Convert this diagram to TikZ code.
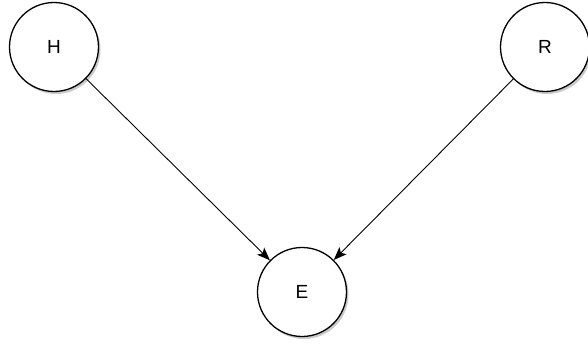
\documentclass[tikz,border=0pt]{standalone}
\usepackage{fontspec}
\setmainfont{Liberation Sans}
\usetikzlibrary{arrows.meta,shadows}
\begin{document}
\begin{tikzpicture}[x=1pt,y=-1pt,
  var/.style={circle,draw=black,line width=1.3pt,fill=white,minimum size=89pt,inner sep=0pt,
    font=\fontsize{19}{21}\selectfont,
    drop shadow={shadow xshift=2pt,shadow yshift=-2.5pt,opacity=0.35,fill=black!60}},
  edge/.style={-{Stealth[length=13pt,width=10pt,inset=3pt]},line width=0.9pt}]
\useasboundingbox (0,0) rectangle (588,345);
\node[var] (H) at (54,47) {H};
\node[var] (R) at (545,47) {R};
\node[var] (E) at (302,292) {E};
\draw[edge] (H) -- (E);
\draw[edge] (R) -- (E);
\end{tikzpicture}
\end{document}
